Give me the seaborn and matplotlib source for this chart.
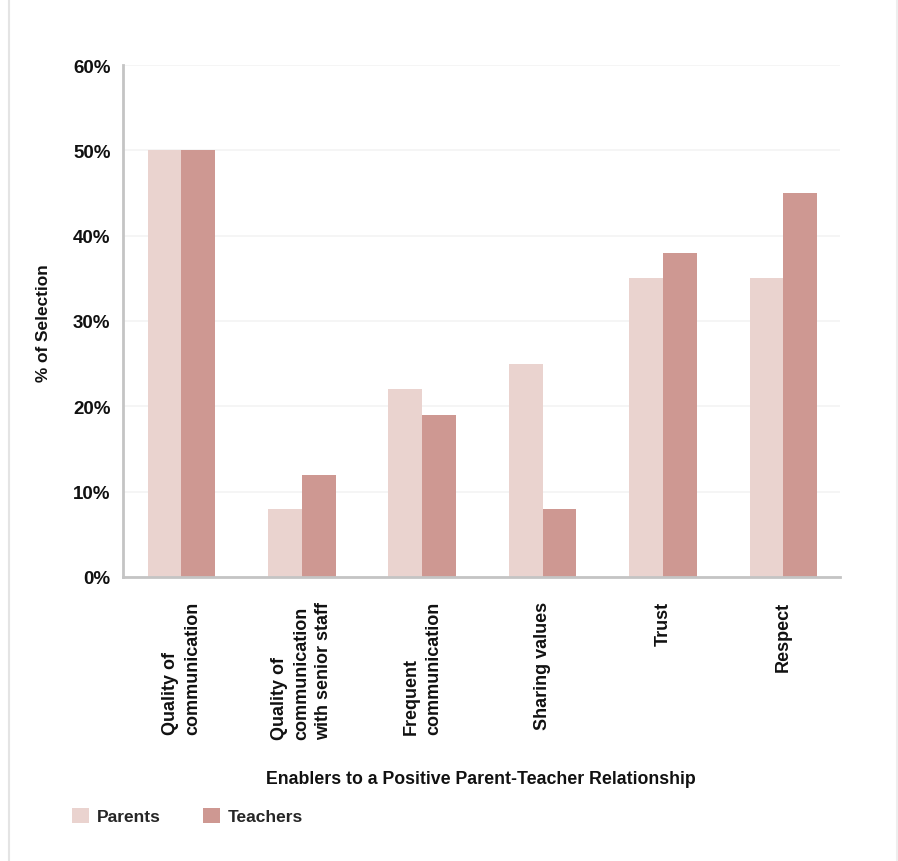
import matplotlib
matplotlib.use("Agg")
import matplotlib.pyplot as plt
import seaborn as sns
import pandas as pd
from matplotlib.patches import Patch
from matplotlib.lines import Line2D
from matplotlib.ticker import FuncFormatter

categories = [
    "Quality of\ncommunication",
    "Quality of\ncommunication\nwith senior staff",
    "Frequent\ncommunication",
    "Sharing values",
    "Trust",
    "Respect",
]
parents = [50, 8, 22, 25, 35, 35]
teachers = [50, 12, 19, 8, 38, 45]
series_names = ["Parents", "Teachers"]
colors = ["#EAD3CF", "#CE9892"]
y_ticks = [0, 10, 20, 30, 40, 50, 60]

df = pd.DataFrame({
    "category": categories * 2,
    "group": [series_names[0]] * len(categories) + [series_names[1]] * len(categories),
    "value": parents + teachers,
})

sns.set_style("white")
plt.rcParams["font.family"] = ["Liberation Sans", "DejaVu Sans"]
plt.rcParams["font.weight"] = "bold"

fig = plt.figure(figsize=(8.98, 8.62), dpi=100)
ax = fig.add_axes([123 / 898, 1 - 578 / 862, (840 - 123) / 898, (578 - 66) / 862])

sns.barplot(data=df, x="category", y="value", hue="group", order=categories,
            hue_order=series_names, palette=colors, saturation=1, width=0.56,
            gap=0, ax=ax, legend=False, errorbar=None, linewidth=0)

ax.set_xlim(-0.485, 5.47)
ax.set_ylim(0, 60)
ax.set_yticks(y_ticks)
ax.yaxis.set_major_formatter(FuncFormatter(lambda v, p: f"{v:.0f}%"))
ax.grid(axis="y", color="#f4f4f4", linewidth=1.2)
ax.set_axisbelow(True)
for s in ["top", "right"]:
    ax.spines[s].set_visible(False)
for s in ["left", "bottom"]:
    ax.spines[s].set_color("#c4c4c4")
    ax.spines[s].set_linewidth(2)
ax.tick_params(axis="both", length=0)
ax.tick_params(axis="y", pad=9, labelsize=13.5, labelcolor="#111111")
ax.tick_params(axis="x", pad=17, labelsize=13, labelcolor="#111111")
for lab in ax.get_yticklabels():
    lab.set_fontweight("bold")
for lab in ax.get_xticklabels():
    lab.set_rotation(90)
    lab.set_ha("center")
    lab.set_va("top")
    lab.set_multialignment("left")
    lab.set_fontweight("bold")
    lab.set_linespacing(1.4)
ax.set_xlabel("")
ax.set_ylabel("")

fig.text(43 / 898, 1 - 323 / 862, "% of Selection", rotation=90, ha="center",
         va="center", fontsize=12.4, fontweight="bold", color="#111111")
fig.text(481 / 898, 1 - 780 / 862, "Enablers to a Positive Parent-Teacher Relationship",
         ha="center", va="center", fontsize=12.8, fontweight="bold", color="#111111")

handles = [Patch(facecolor=c, edgecolor="none") for c in colors]
fig.legend(handles, series_names, loc="center left",
           bbox_to_anchor=(72 / 898, 1 - 817 / 862), ncol=2, frameon=False,
           prop={"size": 12.5, "weight": "bold"}, handlelength=0.98, handleheight=0.98,
           handletextpad=0.46, columnspacing=2.4, borderpad=0, borderaxespad=0)

fig.add_artist(Line2D([9 / 898, 9 / 898], [0, 1], color="#e4e4e4", linewidth=1.5))
fig.add_artist(Line2D([897 / 898, 897 / 898], [0, 1], color="#eeeeee", linewidth=1.5))

fig.savefig("out.png", dpi=100)
